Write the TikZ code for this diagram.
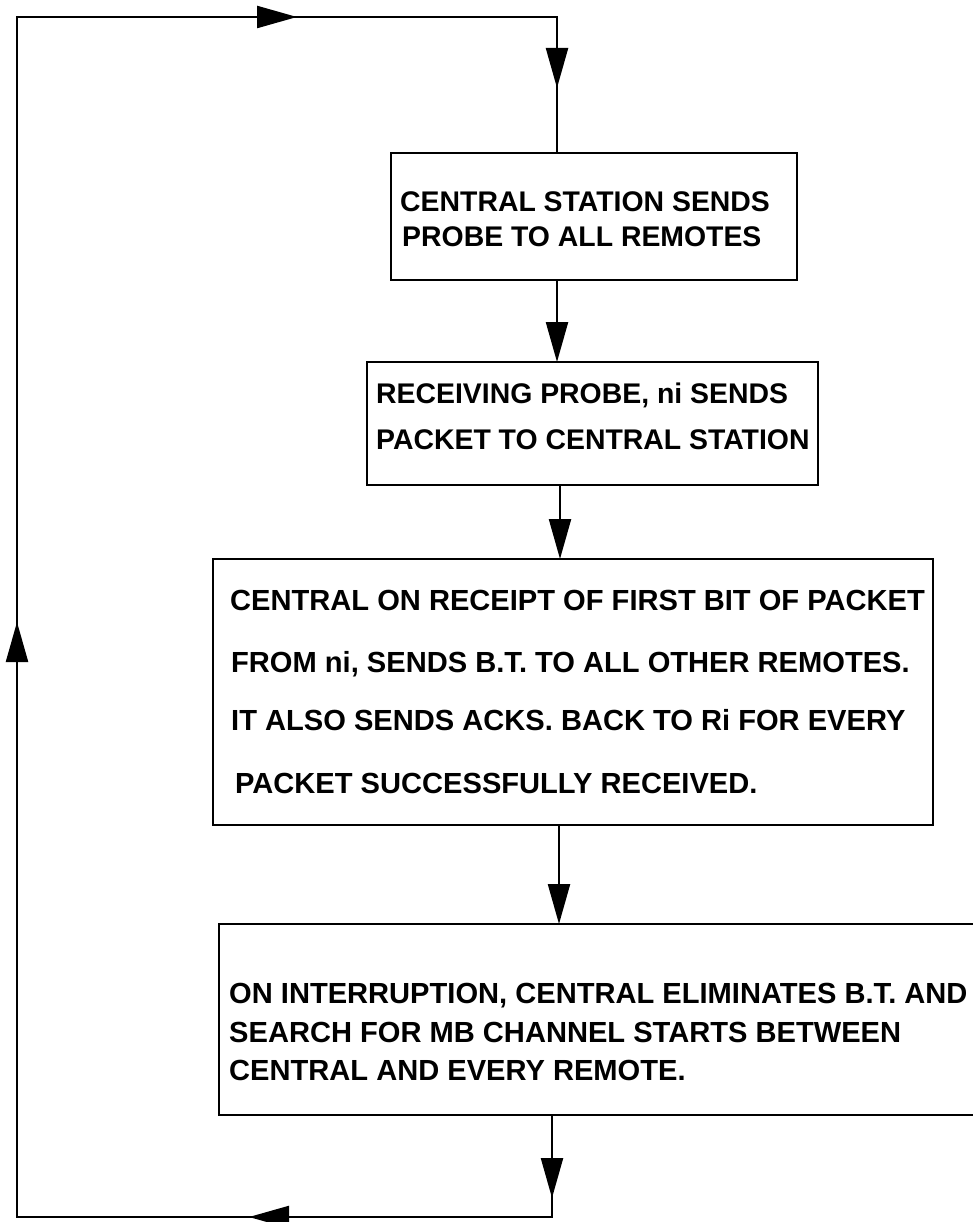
\documentclass[tikz,border=0pt]{standalone}
\usepackage{fontspec}
\setmainfont{Liberation Sans}
\usetikzlibrary{arrows.meta}
\begin{document}
\begin{tikzpicture}[x=1pt,y=-1pt,
  box/.style={draw, line width=2.3pt, inner sep=0pt, outer sep=0pt},
  txt/.style={anchor=base west, inner sep=0pt, font=\fontsize{28.4}{34}\selectfont\bfseries},
  txtb/.style={anchor=base west, inner sep=0pt, font=\fontsize{29.1}{34}\selectfont\bfseries},
  conn/.style={line width=2.3pt},
  arr/.style={line width=2.3pt, -{Triangle[length=40pt,width=22pt]}}]
\useasboundingbox (0,0) rectangle (972,1222);
% boxes
\node[box, minimum width=406pt, minimum height=127pt] (b1) at (594,216.5) {};
\node[box, minimum width=451pt, minimum height=123pt] (b2) at (592.5,423.5) {};
\node[box, minimum width=720pt, minimum height=266pt] (b3) at (573,692) {};
\node[box, minimum width=761pt, minimum height=191pt] (b4) at (599.5,1019.5) {};
% texts
\node[txt] (t11) at (400,212) {CENTRAL STATION SENDS};
\node[txt] (t12) at (402,247) {PROBE TO ALL REMOTES};
\node[txt] (t21) at (376,403) {RECEIVING PROBE, ni SENDS};
\node[txt] (t22) at (376,449) {PACKET TO CENTRAL STATION};
\node[txtb] (t31) at (230,610) {CENTRAL ON RECEIPT OF FIRST BIT OF PACKET};
\node[txtb] (t32) at (231,672) {FROM ni, SENDS B.T. TO ALL OTHER REMOTES.};
\node[txtb] (t33) at (231,730) {IT ALSO SENDS ACKS. BACK TO Ri FOR EVERY};
\node[txtb] (t34) at (235,793) {PACKET SUCCESSFULLY RECEIVED.};
\node[txtb] (t41) at (229,1003) {ON INTERRUPTION, CENTRAL ELIMINATES B.T. AND};
\node[txtb] (t42) at (229,1042) {SEARCH FOR MB CHANNEL STARTS BETWEEN};
\node[txtb] (t43) at (229,1080) {CENTRAL AND EVERY REMOTE.};
% coordinates
\coordinate (tl) at (17,17);
\coordinate (tr) at (557,17);
\coordinate (bl) at (17,1217);
\coordinate (br) at (552,1217);
\coordinate (atop) at (297,17);
\coordinate (aright) at (557,88);
\coordinate (aleft) at (17,622);
\coordinate (abot) at (249,1217);
\coordinate (a4) at (552,1198);
\coordinate (c23) at (560,0);
\coordinate (c34) at (559,0);
% loop
\draw[conn] (b4.south -| br) -- (br) -- (bl) -- (tl) -- (tr) -- (b1.north -| tr);
\draw[arr] (tl) -- (atop);
\draw[arr] (tr) -- (aright);
\draw[arr] (bl) -- (aleft);
\draw[arr] (br) -- (abot);
\draw[arr] (b4.south -| br) -- (a4);
% flow
\draw[arr] (b1.south -| tr) -- (b2.north -| tr);
\draw[arr] (b2.south -| c23) -- (b3.north -| c23);
\draw[arr] (b3.south -| c34) -- (b4.north -| c34);
\end{tikzpicture}
\end{document}
